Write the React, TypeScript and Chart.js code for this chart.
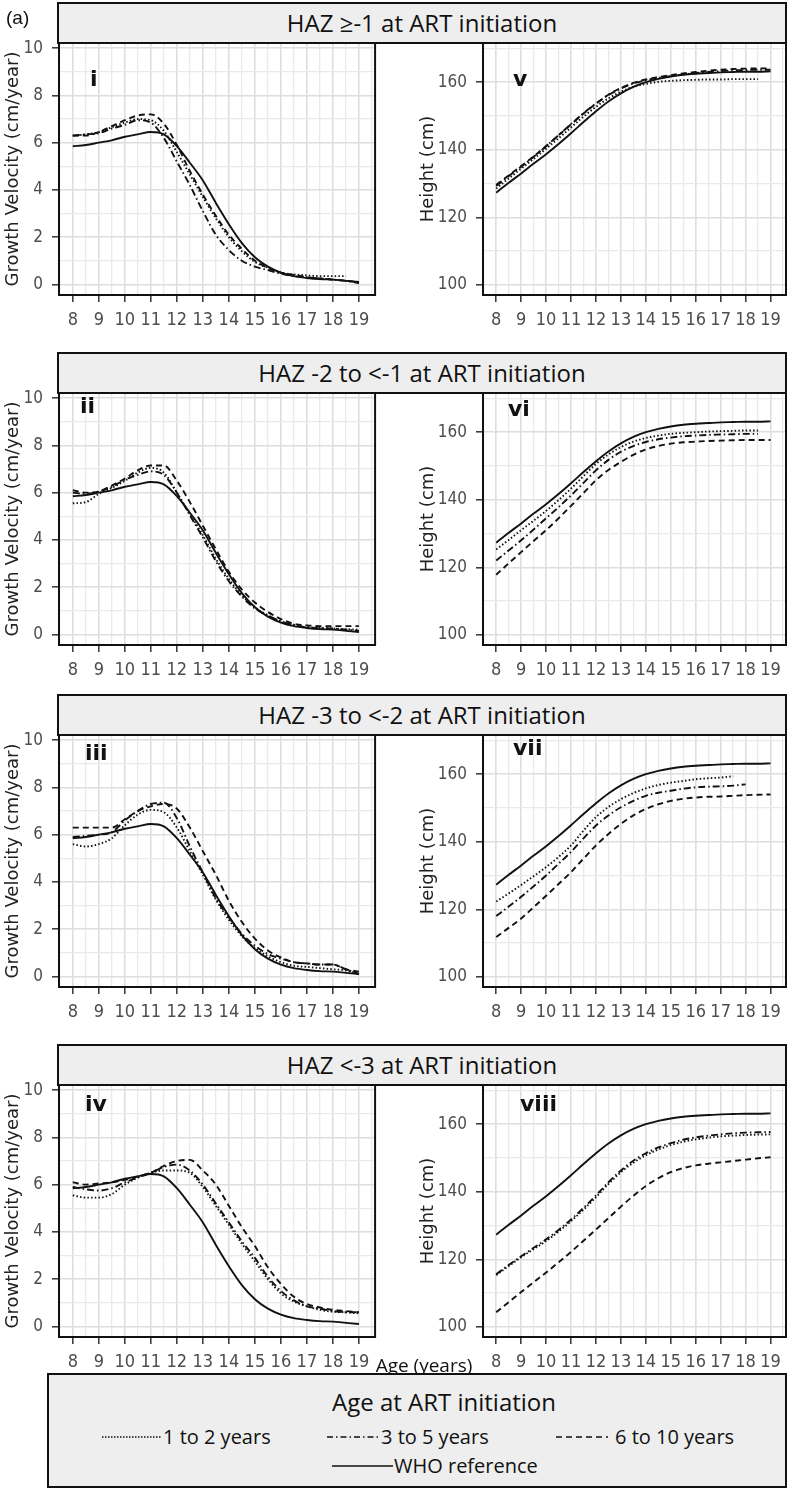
import React, { useEffect, useRef } from 'react';
import { Chart, registerables } from 'chart.js';

Chart.register(...registerables);

// ---------------- data ----------------
const ages = [8, 8.5, 9, 9.5, 10, 10.5, 11, 11.5, 12, 12.5, 13, 13.5, 14, 14.5, 15, 15.5, 16, 16.5, 17, 17.5, 18, 18.5, 19];
const ageTicks = [8, 9, 10, 11, 12, 13, 14, 15, 16, 17, 18, 19];
const gvTicks = [0, 2, 4, 6, 8, 10];
const htTicks = [100, 120, 140, 160];

const seriesNames = ['1 to 2 years', '3 to 5 years', '6 to 10 years', 'WHO reference'];
const rowTitles = [
  'HAZ \u2265-1 at ART initiation',
  'HAZ -2 to <-1 at ART initiation',
  'HAZ -3 to <-2 at ART initiation',
  'HAZ <-3 at ART initiation',
];
const gvPanelNames = ['i', 'ii', 'iii', 'iv'];
const htPanelNames = ['v', 'vi', 'vii', 'viii'];

// WHO reference
const whoGV = [5.85, 5.9, 6.0, 6.1, 6.25, 6.35, 6.45, 6.35, 5.85, 5.15, 4.4, 3.45, 2.55, 1.75, 1.15, 0.75, 0.5, 0.35, 0.27, 0.22, 0.2, 0.15, 0.1];
const whoHT = [127.3, 130.2, 133.0, 135.9, 138.7, 141.7, 144.9, 148.2, 151.4, 154.3, 156.7, 158.6, 160.0, 161.0, 161.7, 162.2, 162.5, 162.7, 162.9, 163.0, 163.1, 163.1, 163.2];

// Growth velocity (cm/year)
const gv1_age1to2 = [6.3, 6.35, 6.45, 6.65, 6.85, 7.0, 6.95, 6.5, 5.6, 4.65, 3.7, 2.8, 2.0, 1.4, 0.95, 0.7, 0.5, 0.42, 0.38, 0.35, 0.35, 0.35, null];
const gv1_age3to5 = [6.3, 6.35, 6.4, 6.6, 6.75, 6.95, 6.85, 6.2, 5.2, 4.2, 3.1, 2.1, 1.45, 1.0, 0.75, 0.6, 0.45, 0.35, 0.3, 0.25, 0.2, 0.15, 0.05];
const gv1_age6to10 = [6.3, 6.3, 6.45, 6.7, 6.95, 7.15, 7.2, 6.8, 5.9, 4.8, 3.8, 2.9, 2.1, 1.5, 1.0, 0.7, 0.5, 0.4, 0.3, 0.25, 0.2, 0.15, 0.1];

const gv2_age1to2 = [5.55, 5.6, 5.95, 6.2, 6.5, 6.85, 7.05, 6.85, 6.0, 5.1, 4.2, 3.2, 2.35, 1.65, 1.15, 0.8, 0.55, 0.4, 0.3, 0.27, 0.25, 0.22, 0.2];
const gv2_age3to5 = [6.0, 5.95, 6.05, 6.25, 6.55, 6.75, 6.9, 6.75, 6.0, 5.05, 4.1, 3.1, 2.25, 1.6, 1.1, 0.8, 0.55, 0.4, 0.3, 0.27, 0.25, 0.2, 0.15];
const gv2_age6to10 = [6.1, 6.0, 6.05, 6.3, 6.6, 6.95, 7.15, 7.15, 6.5, 5.6, 4.6, 3.6, 2.65, 1.9, 1.35, 0.95, 0.65, 0.45, 0.38, 0.35, 0.35, 0.35, 0.35];

const gv3_age1to2 = [5.6, 5.5, 5.6, 5.85, 6.4, 6.85, 7.05, 6.95, 6.3, 5.3, 4.3, 3.25, 2.4, 1.7, 1.2, 0.85, 0.6, 0.45, 0.4, 0.35, 0.3, 0.25, 0.1];
const gv3_age3to5 = [5.9, 5.95, 6.0, 6.1, 6.6, 7.0, 7.3, 7.35, 6.7, 5.5, 4.4, 3.3, 2.5, 1.8, 1.3, 0.95, 0.75, 0.6, 0.55, 0.5, 0.5, 0.3, 0.1];
const gv3_age6to10 = [6.3, 6.3, 6.3, 6.3, 6.65, 7.0, 7.2, 7.3, 7.1, 6.3, 5.3, 4.3, 3.2, 2.3, 1.6, 1.1, 0.8, 0.6, 0.55, 0.5, 0.5, 0.3, 0.2];

const gv4_age1to2 = [5.55, 5.45, 5.45, 5.6, 6.0, 6.3, 6.5, 6.6, 6.6, 6.5, 5.9, 5.1, 4.3, 3.5, 2.75, 2.0, 1.4, 1.05, 0.85, 0.7, 0.62, 0.6, 0.55];
const gv4_age3to5 = [5.9, 5.8, 5.75, 5.85, 6.1, 6.3, 6.5, 6.75, 6.85, 6.6, 6.0, 5.2, 4.4, 3.6, 2.9, 2.1, 1.5, 1.1, 0.85, 0.75, 0.65, 0.6, 0.6];
const gv4_age6to10 = [6.1, 6.0, 6.05, 6.1, 6.2, 6.35, 6.5, 6.8, 7.0, 7.05, 6.6, 6.0, 5.1, 4.2, 3.4, 2.5, 1.8, 1.25, 0.95, 0.8, 0.7, 0.65, 0.6];

// Height (cm)
const ht1_age1to2 = [128.5, 131.5, 134.4, 137.3, 140.3, 143.4, 146.6, 149.8, 152.7, 155.2, 157.2, 158.6, 159.5, 160.1, 160.4, 160.6, 160.7, 160.8, 160.8, 160.9, 160.9, 160.9, null];
const ht1_age3to5 = [129.3, 132.2, 135.0, 137.9, 141.0, 144.3, 147.6, 150.8, 153.7, 156.2, 158.1, 159.6, 160.6, 161.3, 161.8, 162.3, 162.7, 163.0, 163.3, 163.5, 163.6, 163.7, 163.7];
const ht1_age6to10 = [129.6, 132.4, 135.2, 138.0, 141.1, 144.3, 147.5, 150.7, 153.6, 156.3, 158.3, 159.8, 160.8, 161.5, 162.1, 162.6, 163.0, 163.4, 163.7, 163.9, 164.0, 164.1, 164.1];

const ht2_age1to2 = [125.3, 128.1, 131.0, 133.8, 136.7, 139.9, 143.3, 147.0, 150.6, 153.4, 155.6, 157.2, 158.3, 159.0, 159.5, 159.8, 160.0, 160.2, 160.3, 160.4, 160.5, 160.5, null];
const ht2_age3to5 = [122.0, 125.0, 128.0, 131.2, 134.5, 137.8, 141.3, 145.0, 148.7, 151.8, 154.2, 155.9, 157.1, 157.9, 158.4, 158.8, 159.0, 159.2, 159.3, 159.4, 159.5, 159.5, null];
const ht2_age6to10 = [117.8, 121.2, 124.5, 127.8, 131.0, 134.5, 138.2, 142.0, 145.8, 148.8, 151.2, 153.3, 154.9, 155.9, 156.6, 157.0, 157.2, 157.4, 157.5, 157.6, 157.7, 157.7, 157.7];

const ht3_age1to2 = [122.3, 124.7, 127.2, 129.8, 132.5, 135.5, 138.9, 143.3, 147.3, 150.3, 152.6, 154.4, 155.8, 156.8, 157.5, 158.0, 158.5, 158.8, 159.0, 159.4, null, null, null];
const ht3_age3to5 = [118.0, 120.8, 123.7, 126.8, 130.0, 133.5, 137.0, 141.0, 144.8, 147.8, 150.2, 152.1, 153.6, 154.5, 155.1, 155.7, 156.1, 156.3, 156.4, 156.6, 157.0, null, null];
const ht3_age6to10 = [111.8, 114.5, 117.3, 120.6, 124.0, 127.5, 131.0, 135.0, 138.9, 142.3, 145.3, 147.8, 149.7, 151.1, 152.1, 152.7, 153.1, 153.3, 153.4, 153.6, 153.8, 153.9, 154.0];

const ht4_age1to2 = [115.3, 118.0, 120.6, 123.0, 125.4, 128.2, 131.3, 134.7, 138.4, 142.3, 145.8, 148.6, 150.8, 152.5, 153.8, 154.8, 155.5, 156.0, 156.4, 156.6, 156.8, 156.9, 157.0];
const ht4_age3to5 = [115.6, 118.3, 120.9, 123.4, 125.9, 128.7, 131.8, 135.2, 138.9, 142.8, 146.3, 149.2, 151.4, 153.1, 154.4, 155.4, 156.1, 156.6, 157.0, 157.3, 157.5, 157.6, 157.7];
const ht4_age6to10 = [104.3, 107.3, 110.3, 113.2, 116.1, 119.1, 122.2, 125.5, 128.8, 132.2, 135.6, 138.8, 141.7, 144.0, 145.8, 147.0, 147.8, 148.3, 148.7, 149.1, 149.5, 149.9, 150.2];

const gvSeries = [
  [gv1_age1to2, gv1_age3to5, gv1_age6to10, whoGV],
  [gv2_age1to2, gv2_age3to5, gv2_age6to10, whoGV],
  [gv3_age1to2, gv3_age3to5, gv3_age6to10, whoGV],
  [gv4_age1to2, gv4_age3to5, gv4_age6to10, whoGV],
];
const htSeries = [
  [ht1_age1to2, ht1_age3to5, ht1_age6to10, whoHT],
  [ht2_age1to2, ht2_age3to5, ht2_age6to10, whoHT],
  [ht3_age1to2, ht3_age3to5, ht3_age6to10, whoHT],
  [ht4_age1to2, ht4_age3to5, ht4_age6to10, whoHT],
];

// ---------------- layout & style ----------------
const CA_TOPS = [43, 393, 735, 1085];
const CA_H = 252;
const PAD_TOP = 20;
const X_AXIS_H = 42;
const X_RANGE = [7.47, 19.62];
const GV_RANGE = [-0.45, 10.22];
const HT_RANGE = [97, 171.6];
const GV_LABEL_POS = [[31, 35], [21, 12], [26, 17], [26, 18]];
const HT_LABEL_POS = [[30, 35], [25, 15], [30, 12], [37, 18]];

const DASHES: number[][] = [[1.5, 2.2], [7, 3, 1.5, 3], [6, 4], []];
const INK = '#111';
const TICK_FONT = '"DejaVu Sans Condensed", "DejaVu Sans", sans-serif';
const SANS = '"Open Sans", sans-serif';
const GRID_MAJOR = '#dedede';
const GRID_MINOR = '#e9e9e9';

function gridValues(major: number[], step: number, min: number, max: number) {
  const s = new Set<number>();
  major.forEach((v) => {
    s.add(v);
    s.add(v - step / 2);
    s.add(v + step / 2);
  });
  return Array.from(s).filter((v) => v >= min && v <= max).sort((a, b) => a - b);
}

function axis(major: number[], step: number, range: number[], pad: number, size: number) {
  const isMajor = (v: any) => major.indexOf(v) >= 0;
  return {
    type: 'linear',
    min: range[0],
    max: range[1],
    afterBuildTicks: (s: any) => {
      s.ticks = gridValues(major, step, range[0], range[1]).map((value) => ({ value }));
    },
    border: { display: false },
    grid: {
      color: (c: any) => (isMajor(c.tick && c.tick.value) ? GRID_MAJOR : GRID_MINOR),
      lineWidth: (c: any) => (isMajor(c.tick && c.tick.value) ? 1.6 : 1.3),
      drawTicks: true,
      tickLength: 7,
      tickColor: (c: any) => (isMajor(c.tick && c.tick.value) ? '#333' : 'rgba(0,0,0,0)'),
      tickWidth: 1.5,
    },
    ticks: {
      autoSkip: false,
      maxRotation: 0,
      minRotation: 0,
      color: '#4d4d4d',
      padding: pad,
      font: { family: TICK_FONT, size },
      callback: (v: any) => (isMajor(v) ? String(v) : ''),
    },
  };
}

const panelDeco = {
  id: 'panelDeco',
  afterDraw(chart: any, _args: any, opts: any) {
    const { ctx, chartArea: a } = chart;
    ctx.save();
    ctx.strokeStyle = INK;
    ctx.lineWidth = 2;
    ctx.strokeRect(a.left, a.top, a.right - a.left, a.bottom - a.top);
    ctx.fillStyle = INK;
    ctx.font = 'bold 22px "DejaVu Sans", sans-serif';
    ctx.textAlign = 'left';
    ctx.textBaseline = 'alphabetic';
    ctx.fillText(opts.label, a.left + opts.lx, a.top + opts.ly + 8);
    ctx.translate(opts.titleX, (a.top + a.bottom) / 2);
    ctx.rotate(-Math.PI / 2);
    ctx.textAlign = 'center';
    ctx.textBaseline = 'middle';
    ctx.font = '18px "DejaVu Sans", sans-serif';
    ctx.fillStyle = '#222';
    ctx.fillText(opts.title, 0, 0);
    ctx.restore();
  },
};

function makeConfig(kind: 'gv' | 'ht', row: number) {
  const isGV = kind === 'gv';
  const series = isGV ? gvSeries[row] : htSeries[row];
  const pos = isGV ? GV_LABEL_POS[row] : HT_LABEL_POS[row];
  return {
    type: 'line',
    data: {
      datasets: series.map((vals, i) => ({
        label: seriesNames[i],
        data: ages.map((a, j) => ({ x: a, y: vals[j] })),
        borderColor: INK,
        borderWidth: 1.9,
        borderDash: DASHES[i],
        pointRadius: 0,
        tension: 0.3,
        cubicInterpolationMode: 'monotone',
        fill: false,
        spanGaps: false,
      })),
    },
    options: {
      responsive: false,
      animation: false,
      events: [],
      layout: { padding: { top: PAD_TOP, left: 0, right: isGV ? 4 : 14, bottom: 0 } },
      plugins: {
        legend: { display: false },
        tooltip: { enabled: false },
        panelDeco: {
          label: isGV ? gvPanelNames[row] : htPanelNames[row],
          lx: pos[0],
          ly: pos[1],
          title: isGV ? 'Growth Velocity (cm/year)' : 'Height (cm)',
          titleX: isGV ? 13 : 48,
        },
      },
      scales: {
        x: {
          ...axis(ageTicks, 1, X_RANGE, 8, 18),
          position: 'bottom',
          afterFit: (s: any) => {
            s.height = X_AXIS_H;
          },
        },
        y: {
          ...axis(isGV ? gvTicks : htTicks, isGV ? 2 : 20, isGV ? GV_RANGE : HT_RANGE, 9, 17),
          position: 'left',
          afterFit: (s: any) => {
            s.width = isGV ? 59 : 103;
          },
        },
      },
    },
    plugins: [panelDeco],
  };
}

function ChartCanvas({ left, top, width, height, kind, row }: any) {
  const ref = useRef<HTMLCanvasElement>(null);
  useEffect(() => {
    const chart = new Chart(ref.current as HTMLCanvasElement, makeConfig(kind, row) as any);
    return () => chart.destroy();
  }, [kind, row]);
  return (
    <canvas
      ref={ref}
      width={width}
      height={height}
      style={{ position: 'absolute', left, top, width, height, display: 'block' }}
    />
  );
}

function LegendLine({ x1, x2, y, dash }: any) {
  const w = x2 - x1;
  return (
    <svg style={{ position: 'absolute', left: x1, top: y - 3 }} width={w} height={6}>
      <line x1={0} y1={3} x2={w} y2={3} stroke={INK} strokeWidth={1.6} strokeDasharray={dash} />
    </svg>
  );
}

function LegendText({ x, y, children }: any) {
  return (
    <div
      style={{
        position: 'absolute',
        left: x,
        top: y - 14,
        lineHeight: '28px',
        fontSize: 20,
        fontFamily: SANS,
        color: INK,
        whiteSpace: 'nowrap',
      }}
    >
      {children}
    </div>
  );
}

export default function App() {
  const canvasH = PAD_TOP + CA_H + X_AXIS_H;
  return (
    <div
      style={{
        position: 'absolute',
        left: 0,
        top: 0,
        width: 800,
        height: 1491,
        background: '#fff',
        overflow: 'hidden',
      }}
    >
      {CA_TOPS.map((t, r) => (
        <React.Fragment key={r}>
          <ChartCanvas left={0} top={t - PAD_TOP} width={380} height={canvasH} kind="gv" row={r} />
          <ChartCanvas left={380} top={t - PAD_TOP} width={420} height={canvasH} kind="ht" row={r} />
          <div
            style={{
              position: 'absolute',
              left: 57,
              top: t - 41,
              width: 730,
              height: 42,
              boxSizing: 'border-box',
              border: `2px solid ${INK}`,
              background: '#eeeeee',
              textAlign: 'center',
              lineHeight: '38px',
              fontFamily: SANS,
              fontSize: 24,
              color: INK,
              whiteSpace: 'nowrap',
            }}
          >
            {rowTitles[r]}
          </div>
        </React.Fragment>
      ))}

      <div
        style={{
          position: 'absolute',
          left: 6,
          top: 6,
          lineHeight: '24px',
          fontFamily: '"Liberation Sans", sans-serif',
          fontSize: 19,
          color: INK,
        }}
      >
        (a)
      </div>

      <div
        style={{
          position: 'absolute',
          left: 324,
          width: 200,
          top: 1352,
          textAlign: 'center',
          lineHeight: '26px',
          fontFamily: SANS,
          fontSize: 19,
          color: INK,
          whiteSpace: 'nowrap',
        }}
      >
        Age (years)
      </div>

      <div
        style={{
          position: 'absolute',
          left: 47,
          top: 1373,
          width: 740,
          height: 115,
          boxSizing: 'border-box',
          border: `2px solid ${INK}`,
          background: '#eeeeee',
        }}
      />
      <div
        style={{
          position: 'absolute',
          left: 244,
          width: 400,
          top: 1386,
          textAlign: 'center',
          lineHeight: '32px',
          fontFamily: SANS,
          fontSize: 24,
          color: INK,
          whiteSpace: 'nowrap',
        }}
      >
        Age at ART initiation
      </div>

      <LegendLine x1={102} x2={162} y={1437} dash="1.5 1.5" />
      <LegendText x={163} y={1437}>{seriesNames[0]}</LegendText>
      <LegendLine x1={327} x2={379} y={1437} dash="6 3 1.5 3" />
      <LegendText x={381} y={1437}>{seriesNames[1]}</LegendText>
      <LegendLine x1={556} x2={608} y={1437} dash="6 4" />
      <LegendText x={615} y={1437}>{seriesNames[2]}</LegendText>
      <LegendLine x1={332} x2={393} y={1466} dash="" />
      <LegendText x={394} y={1466}>{seriesNames[3]}</LegendText>
    </div>
  );
}
